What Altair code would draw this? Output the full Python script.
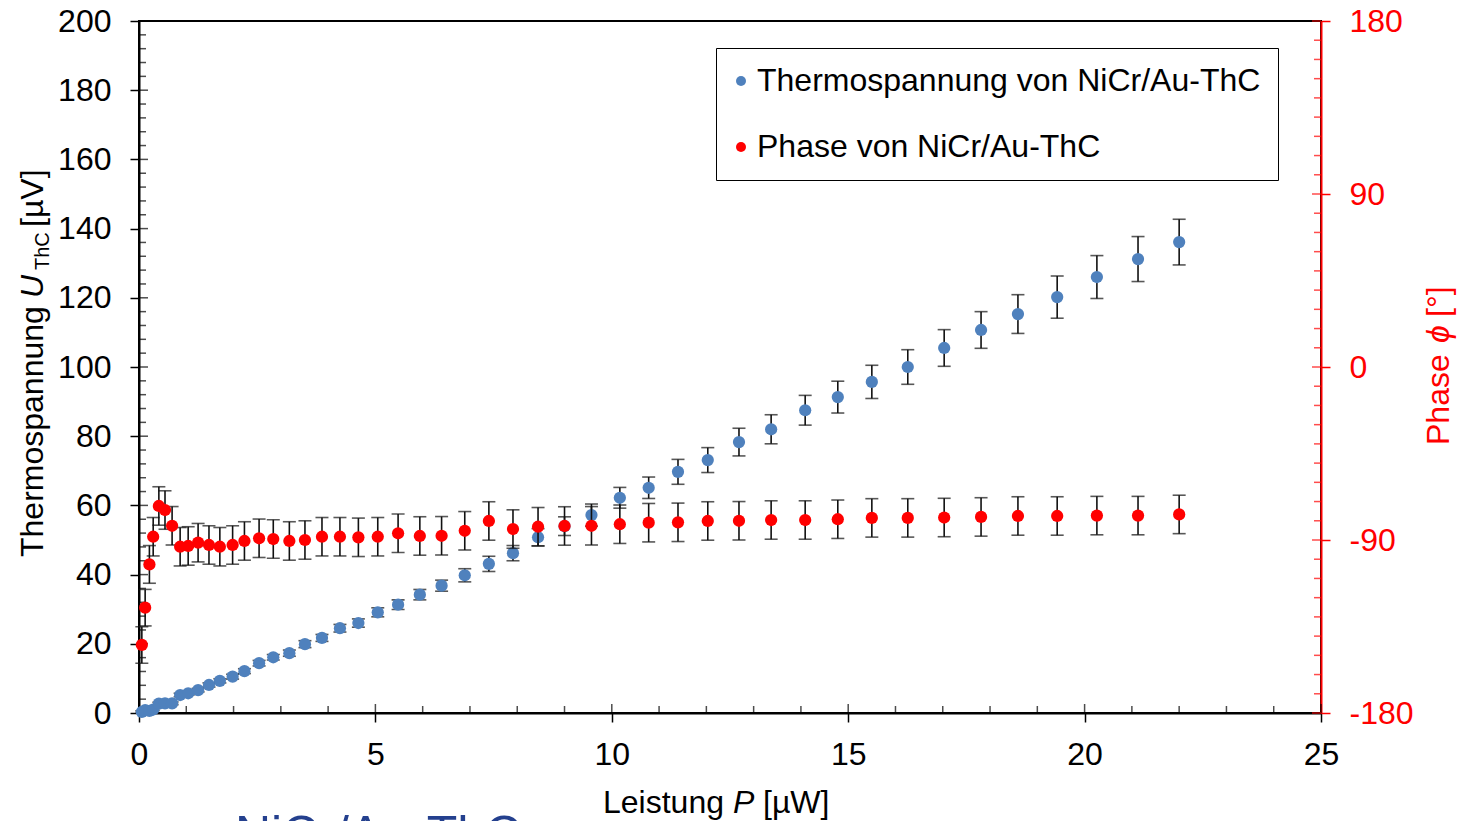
import altair as alt
import pandas as pd

FONT = "Liberation Sans"
BLUE = "#4F81BD"
RED = "#FF0000"
SERIES = ["Thermospannung von NiCr/Au-ThC", "Phase von NiCr/Au-ThC"]

# Leistung P [µW]
P = [0.06, 0.13, 0.22, 0.30, 0.42, 0.55, 0.70, 0.87, 1.04, 1.25, 1.48, 1.71,
     1.98, 2.23, 2.54, 2.84, 3.18, 3.51, 3.87, 4.25, 4.64, 5.05, 5.48, 5.94,
     6.40, 6.89, 7.40, 7.91, 8.44, 9.00, 9.57, 10.17, 10.78, 11.40, 12.03, 12.69,
     13.37, 14.09, 14.78, 15.50, 16.26, 17.03, 17.81, 18.59, 19.42, 20.26, 21.13, 22.00]
# Thermospannung U_ThC [µV]
U = [0.3, 0.8, 0.6, 1.0, 2.7, 2.8, 2.8, 5.2, 5.7, 6.6, 8.1, 9.3,
     10.5, 12.1, 14.4, 16.1, 17.3, 19.9, 21.7, 24.5, 26.0, 29.1, 31.3, 34.2,
     36.8, 39.8, 43.1, 46.2, 50.8, 54.0, 57.2, 62.2, 65.1, 69.7, 73.1, 78.3,
     82.0, 87.5, 91.3, 95.7, 100.0, 105.5, 110.7, 115.3, 120.2, 126.0, 131.2, 136.1]
U_err = [0.3, 0.3, 0.3, 0.3, 0.4, 0.4, 0.4, 0.5, 0.5, 0.5, 0.6, 0.6,
         0.7, 0.7, 0.8, 0.8, 0.9, 1.0, 1.0, 1.1, 1.2, 1.3, 1.4, 1.5,
         1.6, 1.9, 2.2, 2.2, 2.5, 2.7, 3.2, 3.0, 3.1, 3.6, 3.6, 4.0,
         4.2, 4.3, 4.6, 4.8, 5.0, 5.3, 5.3, 5.6, 6.1, 6.2, 6.5, 6.6]
# Phase [°]
PHASE = [-144.6, -125.2, -102.7, -88.3, -72.3, -74.4, -82.6, -93.5, -93.1, -91.4, -92.6, -93.5,
         -92.6, -90.5, -89.1, -89.5, -90.5, -90.0, -88.3, -88.3, -88.6, -88.3, -86.5, -87.9,
         -87.8, -85.2, -80.1, -84.3, -83.1, -82.7, -82.6, -81.8, -81.0, -80.8, -80.1, -80.0,
         -79.6, -79.6, -79.2, -78.5, -78.5, -78.3, -78.0, -77.5, -77.5, -77.3, -77.3, -76.7]
PHASE_err = [9.5, 9.5, 9.8, 10.0, 10.0, 10.0, 10.0, 10.0, 10.0, 10.0, 10.0, 10.0,
             10.0, 10.0, 10.0, 10.0, 10.0, 10.0, 10.0, 10.0, 10.0, 10.0, 10.0, 10.0,
             10.0, 10.0, 10.0, 10.0, 10.0, 10.0, 10.0, 10.0, 10.0, 10.0, 10.0, 10.0,
             10.0, 10.0, 10.0, 10.0, 10.0, 10.0, 10.0, 10.0, 10.0, 10.0, 10.0, 10.0]

X_MAJOR = [0, 5, 10, 15, 20, 25]
X_MINOR = [1, 2, 3, 4, 6, 7, 8, 9, 11, 12, 13, 14, 16, 17, 18, 19, 21, 22, 23, 24]
YL_MAJOR = [0, 20, 40, 60, 80, 100, 120, 140, 160, 180, 200]
YL_MINOR = [v for v in range(4, 200, 4) if v % 20]
YR_MAJOR = [-180, -90, 0, 90, 180]
YR_MINOR = [v for v in range(-170, 180, 10) if v % 90]

W, H = 1182, 692
MAJ, MIN = 9, 7
BAR = "#111111"

x_scale = alt.Scale(domain=[0, 25], nice=False, zero=False)
yl_scale = alt.Scale(domain=[0, 200], nice=False)
yr_scale = alt.Scale(domain=[-180, 180], nice=False)
color_scale = alt.Scale(domain=SERIES, range=[BLUE, RED])

common_axis = dict(grid=False, labelFont=FONT, labelFontSize=32, tickSize=MAJ,
                   tickWidth=1.5, domainWidth=2, title=None, labelFlush=False)
x_axis = alt.Axis(values=X_MAJOR, format="d", labelPadding=17, tickColor="black",
                  domainColor="black", labelColor="black", **common_axis)
yl_axis = alt.Axis(values=YL_MAJOR, format="d", orient="left", labelPadding=19,
                   tickColor="black", domainColor="black", labelColor="black", **common_axis)
yr_axis = alt.Axis(values=YR_MAJOR, labelExpr="'' + datum.value", orient="right",
                   labelPadding=19, tickColor=RED, domainColor=RED, labelColor=RED,
                   **common_axis)

legend = alt.Legend(orient="none", legendX=577, legendY=27, title=None, padding=17,
                    strokeColor="black", fillColor="white", labelFont=FONT,
                    labelFontSize=32, labelColor="black", labelLimit=1000,
                    labelOffset=0, symbolOffset=-8, rowPadding=34, symbolType="circle",
                    symbolSize=100, symbolStrokeWidth=0, symbolOpacity=1)

X = alt.X("P:Q", scale=x_scale, axis=x_axis)

blue = pd.DataFrame({"P": P, "v": U, "err": U_err, "series": SERIES[0]})
red = pd.DataFrame({"P": P, "v": PHASE, "err": PHASE_err, "series": SERIES[1]})


def series_layer(df, scale, axis, inner_x_major, inner_x_minor,
                 major_vals, minor_vals, tick_color):
    Yf = lambda f: alt.Y(f, scale=scale, axis=axis)
    base = alt.Chart(df).transform_calculate(lo="datum.v - datum.err",
                                             hi="datum.v + datum.err")
    rule = base.mark_rule(color=BAR, strokeWidth=1.6).encode(
        x=X, y=Yf("lo:Q"), y2="hi:Q")
    cap_lo = base.mark_tick(orient="horizontal", size=13, thickness=1.6,
                            color=BAR).encode(x=X, y=Yf("lo:Q"))
    cap_hi = base.mark_tick(orient="horizontal", size=13, thickness=1.6,
                            color=BAR).encode(x=X, y=Yf("hi:Q"))
    pts = alt.Chart(df).mark_point(filled=True, size=150, opacity=1, shape="circle",
                                   strokeWidth=0).encode(
        x=X, y=Yf("v:Q"),
        color=alt.Color("series:N", scale=color_scale, legend=legend))
    tmaj = alt.Chart(pd.DataFrame({"t": major_vals})).mark_tick(
        orient="horizontal", size=MAJ, thickness=1.5, color=tick_color).encode(
        y=Yf("t:Q"), x=alt.value(inner_x_major))
    tmin = alt.Chart(pd.DataFrame({"t": minor_vals})).mark_tick(
        orient="horizontal", size=MIN, thickness=1.5, color=tick_color).encode(
        y=Yf("t:Q"), x=alt.value(inner_x_minor))
    return [tmaj, tmin, rule, cap_lo, cap_hi, pts]


left_layers = series_layer(blue, yl_scale, yl_axis, MAJ / 2, MIN / 2,
                           YL_MAJOR, YL_MINOR, "black")
right_layers = series_layer(red, yr_scale, yr_axis, W - MAJ / 2, W - MIN / 2,
                            YR_MAJOR, YR_MINOR, RED)

x_tmaj = alt.Chart(pd.DataFrame({"t": X_MAJOR})).mark_tick(
    orient="vertical", size=MAJ, thickness=1.5, color="black").encode(
    x=alt.X("t:Q", scale=x_scale, axis=x_axis), y=alt.value(H - MAJ / 2))
x_tmin = alt.Chart(pd.DataFrame({"t": X_MINOR})).mark_tick(
    orient="vertical", size=MIN, thickness=1.5, color="black").encode(
    x=alt.X("t:Q", scale=x_scale, axis=x_axis), y=alt.value(H - MIN / 2))

left = alt.layer(x_tmaj, x_tmin, *left_layers)
right = alt.layer(*right_layers)


def piece(txt, x, y, size=32, style="normal", angle=0, color="black", weight="normal"):
    return alt.Chart(pd.DataFrame({"label": [txt]})).mark_text(
        align="left", baseline="alphabetic", angle=angle, font=FONT, fontSize=size,
        fontStyle=style, fontWeight=weight, color=color).encode(
        text="label:N", x=alt.value(x), y=alt.value(y))


titles = [
    # left axis title (rotated)
    piece("Thermospannung", -96, 536, angle=270),
    piece("U", -96, 277, style="italic", angle=270),
    piece("ThC", -90, 249, size=20, angle=270),
    piece("[µV]", -96, 206, angle=270),
    # x axis title
    piece("Leistung", 464, 792),
    piece("P", 594, 792, style="italic"),
    piece("[µW]", 624, 792),
    # right axis title (rotated)
    piece("Phase", 1310, 424, angle=270, color=RED),
    piece("ϕ", 1310, 322, style="italic", angle=270, color=RED),
    piece("[°]", 1310, 296, angle=270, color=RED),
    # cut-off slide text at the bottom
    piece("NiCr/Au-ThC", 96, 830, size=50, color="#24408E"),
]

chart = alt.layer(left, right, *titles).resolve_scale(y="independent").properties(
    width=W, height=H,
    padding={"left": 131, "top": 13, "right": 136, "bottom": 108},
    autosize=alt.AutoSizeParams(type="none"),
).configure_view(stroke="black", strokeWidth=2)

chart.save("out.html", embed_options={"renderer": "svg", "actions": False})
